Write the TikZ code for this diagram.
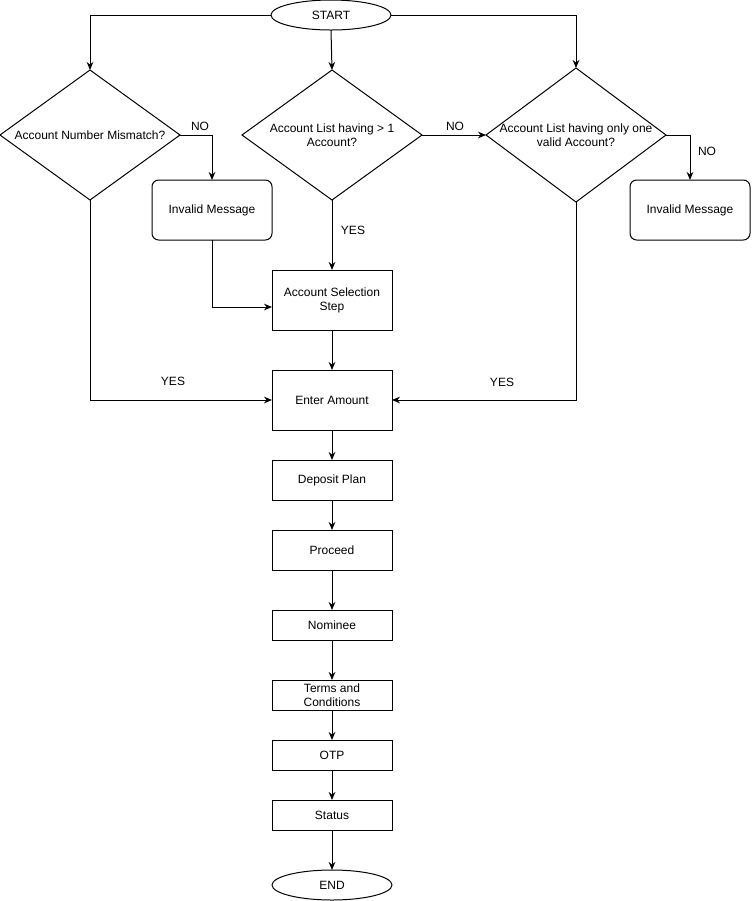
\documentclass[tikz,border=0pt]{standalone}
\usepackage{fontspec}
\setmainfont{Liberation Sans}
\usetikzlibrary{arrows.meta,shapes.geometric}
\definecolor{figline}{RGB}{0,0,0}
\tikzset{
  base/.style ={draw=figline, line width=0.75pt, font=\fontsize{9}{10.5}\selectfont, align=center, inner sep=0pt, outer sep=0pt},
  proc/.style ={base, rectangle, minimum width=90pt},
  term/.style ={base, ellipse, minimum width=90pt, minimum height=22.5pt},
  dec/.style  ={base, diamond, minimum width=135pt, minimum height=97.5pt},
  msg/.style  ={proc, rounded corners=5pt, minimum height=45pt},
  lab/.style  ={font=\fontsize{9}{10.5}\selectfont, align=center, inner sep=1pt},
  flow/.style ={draw=figline, line width=0.75pt, -{Stealth[length=6pt,width=5pt]}},
}
\begin{document}
\begin{tikzpicture}[x=0.75pt,y=-0.75pt]
  \useasboundingbox (0,0) rectangle (751,901);
  \node[term] (start) at (331,15) {START};
  \node[dec,label={[lab]center:Account Number Mismatch?}] (d1) at (90,135) {};
  \node[dec,label={[lab]center:Account List having > 1\\Account?}] (d2) at (332,135) {};
  \node[dec,minimum height=100.5pt,label={[lab]center:Account List having only one\\valid Account?}] (d3) at (576,135) {};
  \node[msg] (inv1) at (212,210) {Invalid Message};
  \node[msg] (inv2) at (690,210) {Invalid Message};
  \node[proc,minimum height=45pt] (sel) at (332,300) {Account Selection\\Step};
  \node[proc,minimum height=45pt] (amt) at (332,400) {Enter Amount};
  \node[proc,minimum height=30pt] (plan) at (332,480) {Deposit Plan};
  \node[proc,minimum height=30pt] (proc) at (332,550) {Proceed};
  \node[proc,minimum height=22.5pt] (nom) at (332,625) {Nominee};
  \node[proc,minimum height=22.5pt] (terms) at (332,695) {Terms and\\Conditions};
  \node[proc,minimum height=22.5pt] (otp) at (332,755) {OTP};
  \node[proc,minimum height=22.5pt] (stat) at (332,815) {Status};
  \node[term] (end) at (332,885) {END};
  \coordinate (selin) at (272,307);

  \draw[flow] (start.west) -| (d1.north);
  \draw[flow] (start.south) -- (d2.north);
  \draw[flow] (start.east) -| (d3.north);
  \draw[flow] (d1.east) -| (inv1.north);
  \draw[flow] (d1.south) |- (amt.west);
  \draw[flow] (inv1.south) |- (selin);
  \draw[flow] (d2.south) -- (sel.north);
  \draw[flow] (d2.east) -- (d3.west);
  \draw[flow] (d3.east) -| (inv2.north);
  \draw[flow] (d3.south) |- (amt.east);
  \draw[flow] (sel) -- (amt);
  \draw[flow] (amt) -- (plan);
  \draw[flow] (plan) -- (proc);
  \draw[flow] (proc) -- (nom);
  \draw[flow] (nom) -- (terms);
  \draw[flow] (terms) -- (otp);
  \draw[flow] (otp) -- (stat);
  \draw[flow] (stat) -- (end);

  \node[lab] (no1) at (200,126) {NO};
  \node[lab] (yes1) at (173,381) {YES};
  \node[lab] (yes2) at (353,230) {YES};
  \node[lab] (no2) at (455,126) {NO};
  \node[lab] (no3) at (707,151) {NO};
  \node[lab] (yes3) at (502,382) {YES};
\end{tikzpicture}
\end{document}
